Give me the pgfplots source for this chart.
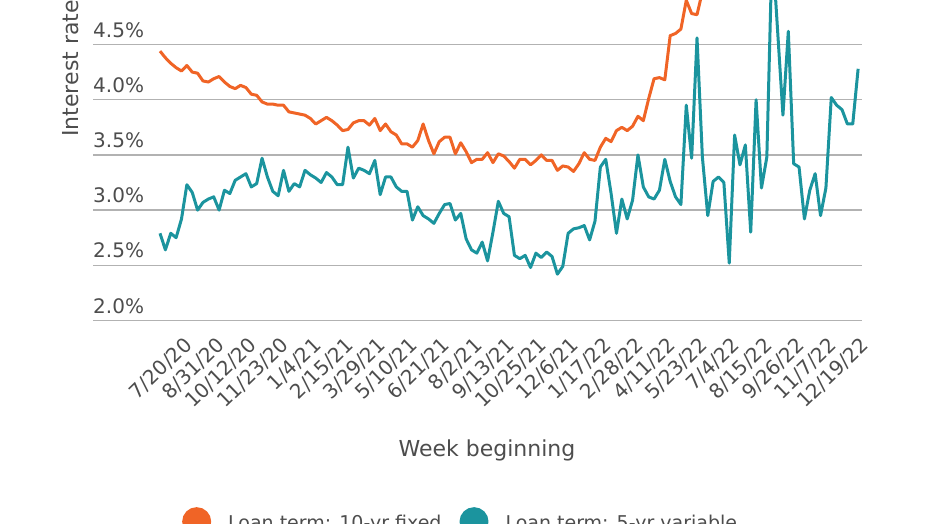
\documentclass[border=0pt]{standalone}
\usepackage{fontspec}
\setmainfont{DejaVu Sans}
\usepackage{pgfplots}
\pgfplotsset{compat=1.18}
\usepackage{pgfplotstable}
\definecolor{orangeC}{RGB}{240,100,38}
\definecolor{tealC}{RGB}{27,148,158}
\definecolor{gridC}{RGB}{178,178,178}
\definecolor{textC}{RGB}{77,77,77}

\pgfplotstableread{
j orange teal
0 4.44 2.79
1 4.38 2.64
2 4.33 2.79
3 4.29 2.75
4 4.26 2.92
5 4.31 3.23
6 4.25 3.16
7 4.24 3.00
8 4.17 3.07
9 4.16 3.10
10 4.19 3.12
11 4.21 3.00
12 4.16 3.18
13 4.12 3.15
14 4.10 3.27
15 4.13 3.30
16 4.11 3.33
17 4.05 3.21
18 4.04 3.24
19 3.98 3.47
20 3.96 3.30
21 3.96 3.17
22 3.95 3.13
23 3.95 3.36
24 3.89 3.17
25 3.88 3.24
26 3.87 3.21
27 3.86 3.36
28 3.83 3.32
29 3.78 3.29
30 3.81 3.25
31 3.84 3.34
32 3.81 3.30
33 3.77 3.23
34 3.72 3.23
35 3.73 3.57
36 3.79 3.29
37 3.81 3.38
38 3.81 3.36
39 3.77 3.33
40 3.83 3.45
41 3.72 3.14
42 3.78 3.30
43 3.71 3.30
44 3.68 3.21
45 3.60 3.17
46 3.60 3.17
47 3.57 2.91
48 3.63 3.03
49 3.78 2.95
50 3.63 2.92
51 3.51 2.88
52 3.62 2.97
53 3.66 3.05
54 3.66 3.06
55 3.51 2.91
56 3.61 2.97
57 3.53 2.74
58 3.43 2.64
59 3.46 2.61
60 3.46 2.71
61 3.52 2.54
62 3.43 2.80
63 3.51 3.08
64 3.49 2.97
65 3.44 2.94
66 3.38 2.59
67 3.46 2.56
68 3.46 2.59
69 3.41 2.48
70 3.45 2.61
71 3.50 2.57
72 3.45 2.62
73 3.45 2.58
74 3.36 2.42
75 3.40 2.49
76 3.39 2.79
77 3.35 2.83
78 3.42 2.84
79 3.52 2.86
80 3.46 2.73
81 3.45 2.90
82 3.57 3.39
83 3.65 3.46
84 3.62 3.15
85 3.72 2.79
86 3.75 3.10
87 3.72 2.92
88 3.76 3.09
89 3.85 3.50
90 3.81 3.21
91 4.01 3.12
92 4.19 3.10
93 4.20 3.18
94 4.18 3.46
95 4.58 3.26
96 4.60 3.12
97 4.64 3.05
98 4.90 3.95
99 4.78 3.47
100 4.77 4.56
101 4.98 3.48
102 5.05 2.95
103 5.10 3.26
104 5.08 3.30
105 5.15 3.25
106 5.20 2.52
107 5.18 3.68
108 5.25 3.41
109 5.30 3.59
110 5.28 2.80
111 5.35 4.00
112 5.40 3.20
113 5.38 3.48
114 5.45 5.40
115 5.50 4.63
116 5.55 3.86
117 5.60 4.62
118 5.62 3.42
119 5.65 3.39
120 5.70 2.92
121 5.68 3.18
122 5.72 3.33
123 5.75 2.95
124 5.73 3.20
125 5.78 4.02
126 5.80 3.95
127 5.82 3.91
128 5.80 3.78
129 5.85 3.78
130 5.88 4.28
}\ratedata

\begin{document}
\begin{tikzpicture}
\begin{axis}[
  x=5.37pt, y=110.4pt,
  xmin=-12.48, xmax=130.7, ymin=2, ymax=5,
  axis line style={draw=none},
  major tick length=0pt,
  ytick={2,2.5,3,3.5,4,4.5},
  yticklabels={2.0\%,2.5\%,3.0\%,3.5\%,4.0\%,4.5\%},
  yticklabel style={anchor=base west, inner sep=0pt, yshift=7.5pt,
    font=\fontsize{20}{24}\selectfont, text=textC},
  ymajorgrids,
  grid style={gridC, line width=1.5pt},
  xtick={4,10,...,130},
  xticklabels={7/20/20,8/31/20,10/12/20,11/23/20,1/4/21,2/15/21,3/29/21,5/10/21,6/21/21,8/2/21,9/13/21,10/25/21,12/6/21,1/17/22,2/28/22,4/11/22,5/23/22,7/4/22,8/15/22,9/26/22,11/7/22,12/19/22},
  xticklabel style={xshift=1.5pt, yshift=-15pt, rotate=44, anchor=north east,
    inner sep=0pt, font=\fontsize{20}{24}\selectfont, text=textC},
  xlabel={Week beginning},
  xlabel style={at={(axis description cs:0.5124,-0.411)}, anchor=base,
    inner sep=0pt, font=\fontsize{22}{26}\selectfont, text=textC},
  ylabel={Interest rate},
  ylabel style={at={(axis description cs:-0.0286,0.761)}, anchor=center,
    inner sep=0pt, font=\fontsize{22}{26}\selectfont, text=textC},
  legend columns=2,
  legend style={draw=none, fill=none, at={(axis description cs:0.1157,-0.563)},
    anchor=north west, inner sep=0pt, font=\fontsize{19}{23}\selectfont,
    text=textC, nodes={inner sep=0pt},
    /tikz/every odd column/.append style={column sep=17pt},
    /tikz/every even column/.append style={column sep=18pt}},
  legend image code/.code={\fill[#1] (0pt,1pt) circle (13pt);},
]
\addplot[color=orangeC, line width=3pt, line join=round, no markers]
  table[x=j, y=orange] {\ratedata};
\addlegendentry{Loan term: 10-yr fixed}
\addplot[color=tealC, line width=3pt, line join=round, no markers]
  table[x=j, y=teal] {\ratedata};
\addlegendentry{Loan term: 5-yr variable}
\end{axis}
\pgfresetboundingbox
\path[use as bounding box] (-93pt,-202.5pt) rectangle (838pt,320.5pt);
\end{tikzpicture}
\end{document}
